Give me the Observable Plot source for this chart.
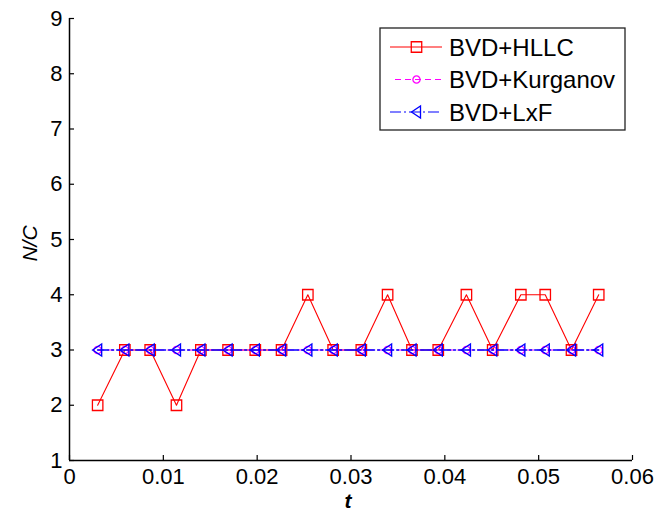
<!DOCTYPE html>
<html>
<head>
<meta charset="utf-8">
<script src="https://cdn.jsdelivr.net/npm/d3@7"></script>
<script src="https://cdn.jsdelivr.net/npm/@observablehq/plot@0.6"></script>
<style>
  body { margin: 0; background: #fff; }
  #chart { width: 672px; height: 514px; }
</style>
</head>
<body>
<div id="chart"></div>
<script>
// Sampling times t
const times = [0.0030, 0.0059, 0.0086, 0.0114, 0.0140, 0.0169, 0.0198, 0.0226, 0.0254, 0.0281,
               0.0311, 0.0339, 0.0365, 0.0393, 0.0423, 0.0451, 0.0481, 0.0507, 0.0535, 0.0564];
// N/C for each scheme
const hllc     = [2, 3, 3, 2, 3, 3, 3, 3, 4, 3, 3, 4, 3, 3, 4, 3, 4, 4, 3, 4];
const kurganov = [3, 3, 3, 3, 3, 3, 3, 3, 3, 3, 3, 3, 3, 3, 3, 3, 3, 3, 3, 3];
const lxf      = [3, 3, 3, 3, 3, 3, 3, 3, 3, 3, 3, 3, 3, 3, 3, 3, 3, 3, 3, 3];
const seriesNames = ["BVD+HLLC", "BVD+Kurganov", "BVD+LxF"];
const xTicks = [0, 0.01, 0.02, 0.03, 0.04, 0.05, 0.06];
const yTicks = [1, 2, 3, 4, 5, 6, 7, 8, 9];

const rows = times.map((t, i) => ({t, hllc: hllc[i], kurganov: kurganov[i], lxf: lxf[i]}));

// Left-pointing triangle marker
const triLeft = {
  draw(ctx, size) {
    const r = Math.sqrt(size / Math.PI);
    ctx.moveTo(-r, 0);
    ctx.lineTo(r * 0.8, -r * 1.2);
    ctx.lineTo(r * 0.8, r * 1.2);
    ctx.closePath();
  }
};

const W = 672, H = 514;
const mTop = 18, mBottom = 54, mLeft = 69, mRight = 40;
const plotW = W - mLeft - mRight, plotH = H - mTop - mBottom;
const font = "Arial, 'Liberation Sans', sans-serif";

const chart = Plot.plot({
  width: W,
  height: H,
  marginTop: mTop,
  marginBottom: mBottom,
  marginLeft: mLeft,
  marginRight: mRight,
  style: {fontFamily: font, fontSize: "22px", color: "#000", background: "#fff", overflow: "visible"},
  x: {domain: [0, 0.06]},
  y: {domain: [1, 9]},
  marks: [
    Plot.axisX(xTicks, {tickSize: 0, tickPadding: 8, tickFormat: d => String(+d.toFixed(2)), label: null}),
    Plot.axisY(yTicks, {tickSize: 0, tickPadding: 7, tickFormat: d => String(d), label: null}),
    // inward tick marks
    Plot.tickX(xTicks, {x: d => d, insetTop: plotH - 5, stroke: "#000", strokeWidth: 1.2}),
    Plot.tickY(yTicks, {y: d => d, insetRight: plotW - 5, stroke: "#000", strokeWidth: 1.2}),
    Plot.ruleX([0], {stroke: "#000", strokeWidth: 1.5}),
    Plot.ruleY([1], {stroke: "#000", strokeWidth: 1.5}),
    // BVD+HLLC
    Plot.line(rows, {x: "t", y: "hllc", stroke: "#ff0000", strokeWidth: 1.1}),
    Plot.dot(rows, {x: "t", y: "hllc", symbol: "square", r: 5.9, stroke: "#ff0000", strokeWidth: 1.3}),
    // BVD+Kurganov
    Plot.line(rows, {x: "t", y: "kurganov", stroke: "#ff00ff", strokeWidth: 1.2, strokeDasharray: "6,4"}),
    Plot.dot(rows, {x: "t", y: "kurganov", symbol: "circle", r: 3.6, stroke: "#ff00ff", strokeWidth: 1.3}),
    // BVD+LxF
    Plot.line(rows, {x: "t", y: "lxf", stroke: "#0000ff", strokeWidth: 1.3, strokeDasharray: "11,3,2,3"}),
    Plot.dot(rows, {x: "t", y: "lxf", symbol: triLeft, r: 5, stroke: "#0000ff", strokeWidth: 1.4}),
    // axis titles
    Plot.text(["t"], {frameAnchor: "bottom", text: d => d, dy: 41, dx: -3, lineAnchor: "middle", textAnchor: "middle", fontStyle: "italic", fontWeight: "bold", fontSize: 21}),
    Plot.text(["N/C"], {frameAnchor: "left", text: d => d, rotate: -90, dx: -39, dy: 4, lineAnchor: "middle", textAnchor: "middle", fontStyle: "italic", fontSize: 21})
  ]
});
document.getElementById("chart").append(chart);

// Legend box in the upper right of the axes
const svg = d3.select(chart);
const lg = svg.append("g").attr("transform", "translate(380,28)");
lg.append("rect").attr("x", 0).attr("y", 0).attr("width", 245).attr("height", 102)
  .attr("fill", "#fff").attr("stroke", "#222").attr("stroke-width", 1.3);
const legendStyles = [
  {color: "#ff0000", dash: null, x1: 10, symbol: d3.symbol(d3.symbolSquare, Math.PI * 5.9 * 5.9)},
  {color: "#ff00ff", dash: "6,4", x1: 15, symbol: d3.symbol(d3.symbolCircle, Math.PI * 3.6 * 3.6)},
  {color: "#0000ff", dash: "11,3,2,3", x1: 10, symbol: d3.symbol(triLeft, Math.PI * 25)}
];
seriesNames.forEach((name, i) => {
  const s = legendStyles[i];
  const y = 19 + i * 32.5;
  lg.append("line").attr("x1", s.x1).attr("x2", 62).attr("y1", y).attr("y2", y)
    .attr("stroke", s.color).attr("stroke-width", 1.2).attr("stroke-dasharray", s.dash);
  lg.append("path").attr("d", s.symbol()).attr("transform", `translate(36.5,${y})`)
    .attr("fill", "none").attr("stroke", s.color).attr("stroke-width", 1.3);
  lg.append("text").attr("x", 69).attr("y", y).attr("dy", "0.36em")
    .attr("text-anchor", "start")
    .attr("font-family", font).attr("font-size", 24).attr("fill", "#000").text(name);
});
</script>
</body>
</html>
